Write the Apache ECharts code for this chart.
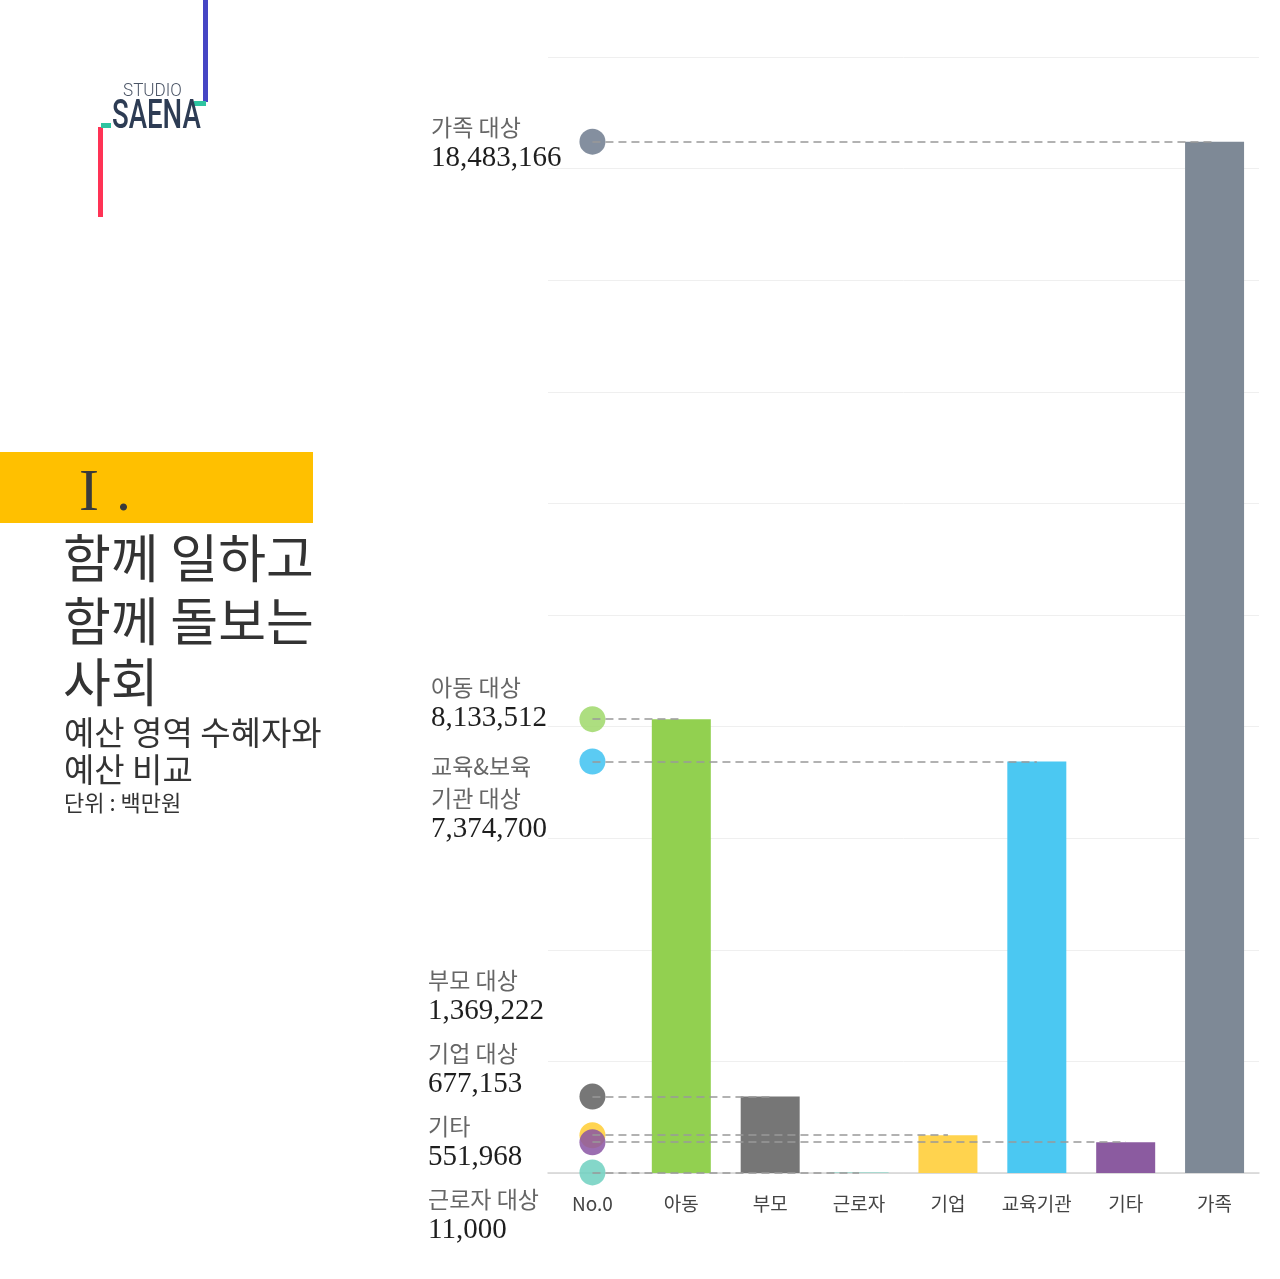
<!DOCTYPE html>
<html>
<head>
<meta charset="utf-8">
<title>함께 일하고 함께 돌보는 사회</title>
<script src="https://cdn.jsdelivr.net/npm/echarts@6/dist/echarts.min.js"></script>
<style>
  html, body { margin: 0; padding: 0; background: #fff; }
  #chart { width: 1280px; height: 1279px; }
</style>
</head>
<body>
<div id="chart"></div>
<script>
// categories on the x axis (No.0 holds the reference dots)
const categories = ['No.0', '아동', '부모', '근로자', '기업', '교육기관', '기타', '가족'];
// budget per beneficiary group, 백만원
const budgetValues = [null, 8133512, 1369222, 11000, 677153, 7374700, 551968, 18483166];
const barColors = ['#ffffff', '#92d050', '#767676', '#74d3c2', '#ffd34e', '#4bc8f2', '#8b5ba0', '#7e8996'];
const dotColors = ['#ffffff', '#9fd86a', '#5f5f5f', '#6fd0bf', '#ffcc33', '#3ec2f1', '#8a55a3', '#6f7b8e'];
// left side label names per category
const targetNames = ['', '아동 대상', '부모 대상', '근로자 대상', '기업 대상', '교육&보육\n기관 대상', '기타', '가족 대상'];
const yMax = 20000000;
const yStep = 2000000;

// where each left text block starts (name line centre)
const labelLayout = [
  { cat: '가족', x: 431, y: 127 },
  { cat: '아동', x: 431, y: 687 },
  { cat: '교육기관', x: 431, y: 766 },
  { cat: '부모', x: 428, y: 980 },
  { cat: '기업', x: 428, y: 1053 },
  { cat: '기타', x: 428, y: 1126 },
  { cat: '근로자', x: 428, y: 1199 }
];

const KR = '"Noto Sans CJK KR", "Noto Sans", sans-serif';
const SERIF = '"Liberation Serif", "DejaVu Serif", serif';

function fmt(value) {
  return value.toLocaleString('en-US');
}

function buildSideLabels() {
  const out = [];
  labelLayout.forEach((item) => {
    const idx = categories.indexOf(item.cat);
    const lines = targetNames[idx].split('\n');
    let y = item.y;
    lines.forEach((line) => {
      out.push({
        type: 'text', x: item.x, y: y,
        style: { text: line, font: '23px ' + KR, fill: '#666', verticalAlign: 'middle' }
      });
      y += 32;
    });
    out.push({
      type: 'text', x: item.x, y: y - 1,
      style: { text: fmt(budgetValues[idx]), font: '29px ' + SERIF, fill: '#1e1e1e', verticalAlign: 'middle' }
    });
  });
  return out;
}

function buildLogo() {
  return [
    { type: 'rect', shape: { x: 203, y: 0, width: 5, height: 102 }, style: { fill: '#4646c4' } },
    { type: 'rect', shape: { x: 194, y: 101, width: 12, height: 5 }, style: { fill: '#2ec4a0' } },
    { type: 'rect', shape: { x: 98, y: 127, width: 5, height: 90 }, style: { fill: '#ff3355' } },
    { type: 'rect', shape: { x: 101, y: 123, width: 10, height: 5 }, style: { fill: '#2ec4a0' } },
    {
      type: 'text', x: 123, y: 91,
      style: { text: 'STUDIO', font: '300 18px Roboto, sans-serif', fill: '#4b5566', verticalAlign: 'middle' },
      scaleX: 0.95
    },
    {
      type: 'text', x: 112, y: 118,
      style: { text: 'SAENA', font: '500 40px Roboto, sans-serif', fill: '#2d3c54', verticalAlign: 'middle' },
      scaleX: 0.69
    }
  ];
}

function buildTitle() {
  return [
    { type: 'rect', shape: { x: 0, y: 452, width: 313, height: 71 }, style: { fill: '#ffc000' } },
    { type: 'text', x: 79, y: 494, style: { text: 'I', font: '60px ' + SERIF, fill: '#3a3a3a', verticalAlign: 'middle' } },
    { type: 'text', x: 116, y: 494, style: { text: '.', font: '60px ' + SERIF, fill: '#3a3a3a', verticalAlign: 'middle' } },
    { type: 'text', x: 63, y: 558, style: { text: '함께 일하고', font: '52px ' + KR, fill: '#333', verticalAlign: 'middle' } },
    { type: 'text', x: 63, y: 621, style: { text: '함께 돌보는', font: '52px ' + KR, fill: '#333', verticalAlign: 'middle' } },
    { type: 'text', x: 63, y: 682, style: { text: '사회', font: '52px ' + KR, fill: '#333', verticalAlign: 'middle' } },
    { type: 'text', x: 64, y: 732, style: { text: '예산 영역 수혜자와', font: '33px ' + KR, fill: '#333', verticalAlign: 'middle' } },
    { type: 'text', x: 64, y: 769, style: { text: '예산 비교', font: '33px ' + KR, fill: '#333', verticalAlign: 'middle' } },
    { type: 'text', x: 64, y: 803, style: { text: '단위 : 백만원', font: '22px ' + KR, fill: '#333', verticalAlign: 'middle' } }
  ];
}

const chart = echarts.init(document.getElementById('chart'), null, { renderer: 'canvas' });

const barData = budgetValues.map((v, i) => ({
  value: v,
  itemStyle: { color: barColors[i] }
}));

// dots at No.0, drawn in the same order as the reference (기타 above 기업)
const dotOrder = [7, 1, 5, 2, 4, 6, 3];
const dotData = dotOrder.map((i) => ({
  value: [categories[0], budgetValues[i]],
  itemStyle: { color: dotColors[i], opacity: 0.85 }
}));

const guideLines = dotOrder.map((i) => [
  { coord: [categories[0], budgetValues[i]] },
  { coord: [categories[i], budgetValues[i]] }
]);

chart.setOption({
  animation: false,
  backgroundColor: '#fff',
  grid: { left: 548, right: 21, top: 57, bottom: 106, containLabel: false },
  xAxis: {
    type: 'category',
    data: categories,
    axisTick: { show: false },
    axisLine: { lineStyle: { color: '#d4d4d4', width: 1.5 } },
    axisLabel: { color: '#444', fontSize: 19, fontFamily: KR, margin: 21, interval: 0 }
  },
  yAxis: {
    type: 'value',
    min: 0,
    max: yMax,
    interval: yStep,
    axisLabel: { show: false },
    axisLine: { show: false },
    axisTick: { show: false },
    splitLine: { lineStyle: { color: '#efefef', width: 1 } }
  },
  series: [
    {
      type: 'bar',
      data: barData,
      barWidth: 59,
      z: 2
    },
    {
      type: 'scatter',
      data: dotData,
      symbolSize: 26,
      z: 3,
      markLine: {
        silent: true,
        symbol: 'none',
        label: { show: false },
        lineStyle: { color: '#999', type: [8, 5], width: 1.5 },
        data: guideLines,
        z: 4
      }
    }
  ],
  graphic: buildLogo().concat(buildTitle(), buildSideLabels())
});
</script>
</body>
</html>
